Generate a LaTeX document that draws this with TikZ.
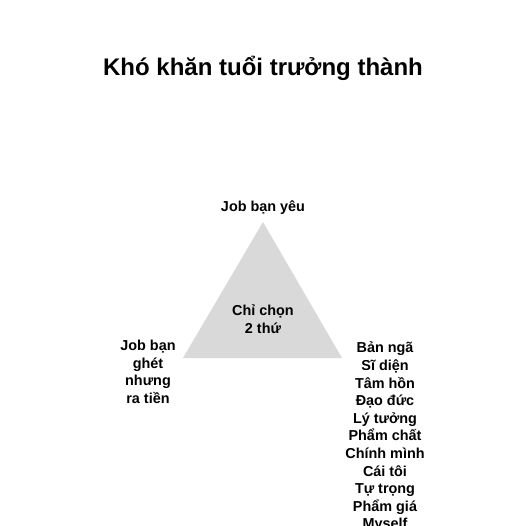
\documentclass[tikz,border=0pt]{standalone}
\usepackage{fontspec}
\setmainfont{Liberation Sans}
\begin{document}
\begin{tikzpicture}[x=1pt,y=-1pt]
        \tikzset{
            label/.style={
                    align=center,
                    font=\fontsize{14.4}{17.6}\selectfont\bfseries,
                    inner sep=0pt,
                },
            heading/.style={font=\fontsize{24}{30}\selectfont\bfseries},
            side/.style={fill=black!15, draw=none},
        }
        \useasboundingbox (0, 0) rectangle (526, 526);
        % \draw (0, 0) grid (526, 526);
        \node[heading] (title) at (263, 68) {Khó khăn tuổi trưởng thành};
        \coordinate (top) at (263, 222);
        \coordinate (left) at (183, 358);
        \coordinate (right) at (342, 358);
        \fill[side] (top) -- (left) -- (right) -- cycle;
        \node[label] (love) at (263, 208) {Job bạn yêu};
        \node[label] (pick) at (263, 319) {Chỉ chọn\\2 thứ};
        \node[label, anchor=north] (hate) at (148, 340) {Job bạn\\ghét\\nhưng\\ra tiền};
        \node[label, anchor=north] (self) at (385, 342) {Bản ngã\\Sĩ diện\\Tâm hồn\\Đạo đức\\Lý tưởng\\Phẩm chất\\Chính mình\\Cái tôi\\Tự trọng\\Phẩm giá\\Myself};
    \end{tikzpicture}
\end{document}
